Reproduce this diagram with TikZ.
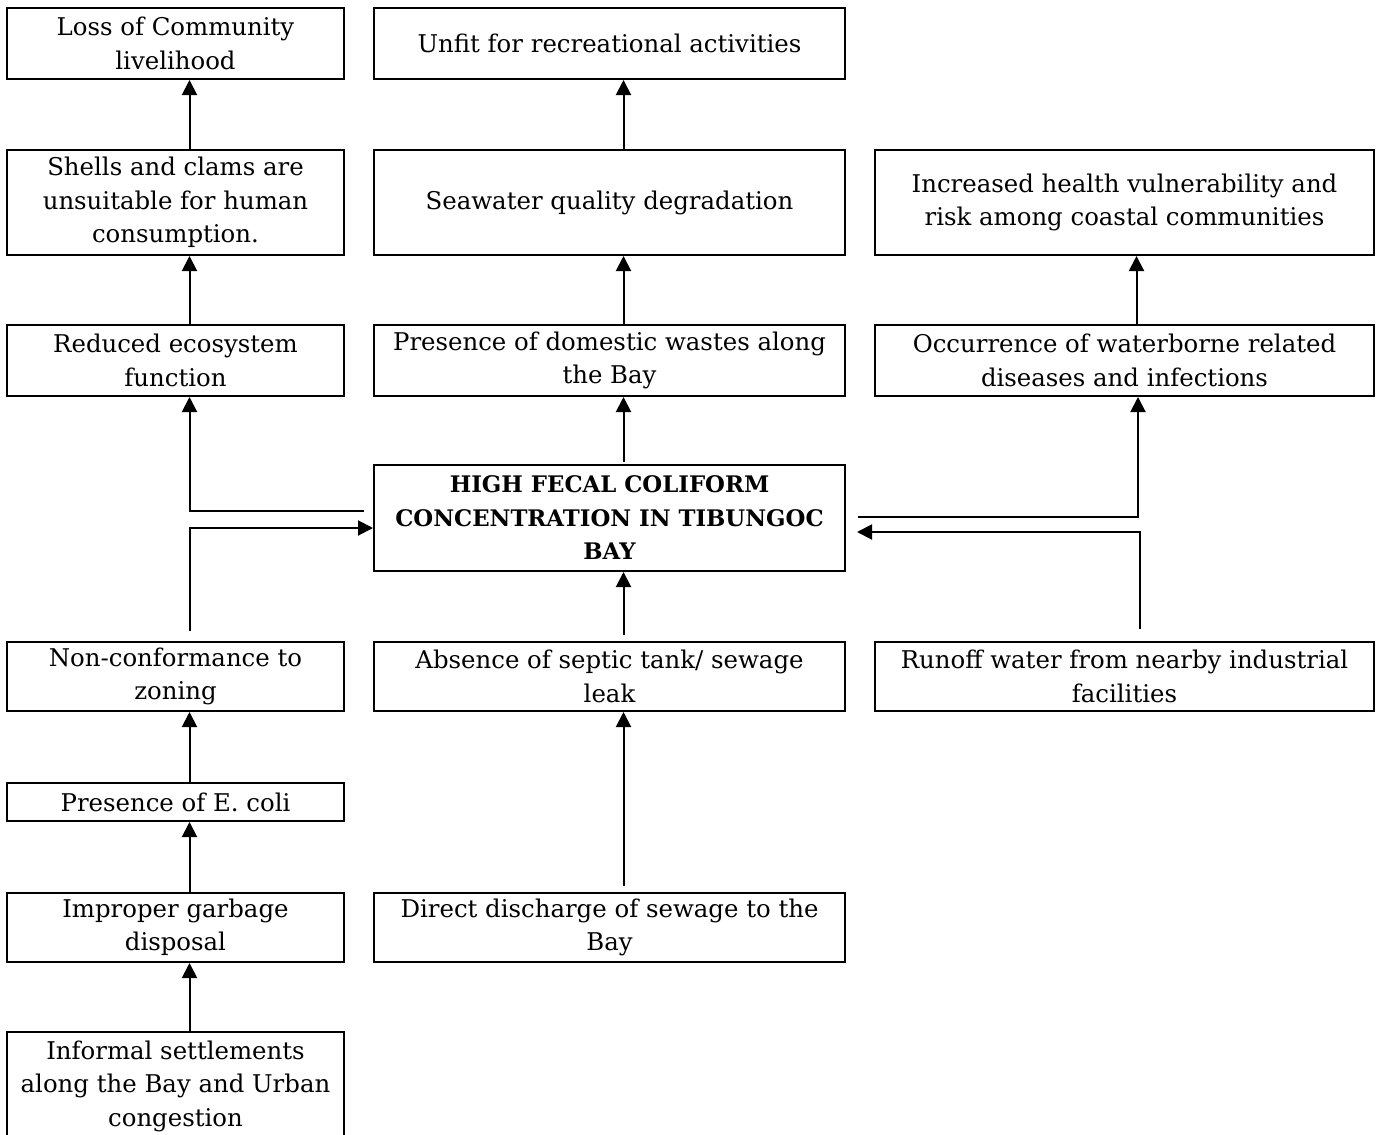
\documentclass[tikz,border=0pt]{standalone}
\usepackage{fontspec}
\setmainfont{DejaVu Serif}
\usetikzlibrary{arrows.meta,calc}
\begin{document}
\begin{tikzpicture}[x=0.5pt,y=-0.5pt,
  box/.style={draw, line width=1pt, inner sep=0pt, align=center,
    font=\fontsize{12.2pt}{16.75pt}\selectfont},
  colL/.style={minimum width=168.5pt},
  colM/.style={minimum width=235.5pt},
  colR/.style={minimum width=249.5pt},
  arr/.style={line width=1pt, -{Triangle[width=7.5pt,length=7.5pt]}},
  ln/.style={line width=1pt}]
\useasboundingbox (0,0) rectangle (1376,1135);
% row 1
\node[box,colL,minimum height=35.5pt] (loss) at (175.5,43.5) {Loss of Community\\livelihood};
\node[box,colM,minimum height=35.5pt] (unfit) at (609.5,43.5) {Unfit for recreational activities};
% row 2
\node[box,colL,minimum height=52.5pt] (shells) at (175.5,202.5) {Shells and clams are\\unsuitable for human\\consumption.};
\node[box,colM,minimum height=52.5pt] (seawater) at (609.5,202.5) {Seawater quality degradation};
\node[box,colR,minimum height=52.5pt] (increased) at (1124.5,202.5) {Increased health vulnerability and\\risk among coastal communities};
% row 3
\node[box,colL,minimum height=35.5pt] (reduced) at (175.5,360.5) {Reduced ecosystem\\function};
\node[box,colM,minimum height=35.5pt] (domestic) at (609.5,360.5) {Presence of domestic wastes along\\the Bay};
\node[box,colR,minimum height=35.5pt] (occurrence) at (1124.5,360.5) {Occurrence of waterborne related\\diseases and infections};
% center
\node[box,colM,minimum height=53pt,font=\fontsize{11.4pt}{16.75pt}\selectfont\bfseries] (center) at (609.5,518) {HIGH FECAL COLIFORM\\CONCENTRATION IN TIBUNGOC\\BAY};
% row 4
\node[box,colL,minimum height=34.5pt] (nonconf) at (175.5,676.5) {Non-conformance to\\zoning};
\node[box,colM,minimum height=34.5pt] (absence) at (609.5,676.5) {Absence of septic tank/ sewage\\leak};
\node[box,colR,minimum height=34.5pt] (runoff) at (1124.5,676.5) {Runoff water from nearby industrial\\facilities};
% e coli
\node[box,colL,minimum height=19pt] (ecoli) at (175.5,802) {Presence of E. coli};
% row 5
\node[box,colL,minimum height=34.5pt] (improper) at (175.5,927.5) {Improper garbage\\disposal};
\node[box,colM,minimum height=34.5pt] (direct) at (609.5,927.5) {Direct discharge of sewage to the\\Bay};
% bottom (cut off)
\draw[ln] (7,1145) -- (7,1032) -- (344,1032) -- (344,1145);
\node[box,draw=none] (informal) at (175.5,1086) {Informal settlements\\along the Bay and Urban\\congestion};
\coordinate (inftop) at (189.5,1032);
% arrows left column
\draw[arr] ([xshift=7pt]shells.north) -- ([xshift=7pt]loss.south);
\draw[arr] ([xshift=7pt]reduced.north) -- ([xshift=7pt]shells.south);
\draw[arr] ([xshift=-4.5pt,yshift=3.5pt]center.west) -| ([xshift=7pt]reduced.south);
\draw[arr] ([xshift=7pt,yshift=5pt]nonconf.north) |- ([yshift=-5pt]center.west);
\draw[arr] ([xshift=7pt]ecoli.north) -- ([xshift=7pt]nonconf.south);
\draw[arr] ([xshift=7pt]improper.north) -- ([xshift=7pt]ecoli.south);
\draw[arr] (inftop) -- ([xshift=7pt]improper.south);
% arrows middle column
\draw[arr] ([xshift=7pt]seawater.north) -- ([xshift=7pt]unfit.south);
\draw[arr] ([xshift=7pt]domestic.north) -- ([xshift=7pt]seawater.south);
\draw[arr] ([xshift=7pt,yshift=1pt]center.north) -- ([xshift=7pt]domestic.south);
\draw[arr] ([xshift=7pt,yshift=3pt]absence.north) -- ([xshift=7pt]center.south);
\draw[arr] ([xshift=7pt,yshift=3pt]direct.north) -- ([xshift=7pt]absence.south);
% arrows right column
\draw[arr] ([xshift=6pt]occurrence.north) -- ([xshift=6pt]increased.south);
\draw[arr] ([xshift=6pt,yshift=0.5pt]center.east) -| ([xshift=6.75pt]occurrence.south);
\draw[arr] ([xshift=7.75pt,yshift=6pt]runoff.north) |- ([xshift=5.5pt,yshift=-7pt]center.east);
\end{tikzpicture}
\end{document}
